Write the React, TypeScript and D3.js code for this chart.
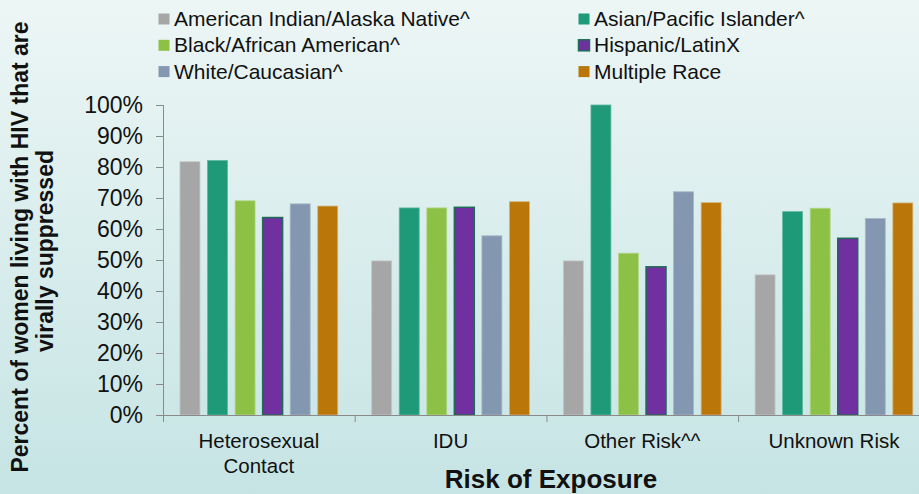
import React from "react";
import * as d3 from "d3";

const categories = ["Heterosexual Contact", "IDU", "Other Risk^^", "Unknown Risk"];
const categoryLines = [["Heterosexual", "Contact"], ["IDU"], ["Other Risk^^"], ["Unknown Risk"]];
const seriesNames = [
  "American Indian/Alaska Native^",
  "Asian/Pacific Islander^",
  "Black/African American^",
  "Hispanic/LatinX",
  "White/Caucasian^",
  "Multiple Race",
];
const aianValues = [81.7, 49.7, 49.7, 45.2];
const asianValues = [82.1, 66.8, 100, 65.6];
const blackValues = [69.1, 66.8, 52.2, 66.7];
const hispanicValues = [63.7, 67.0, 47.8, 57.0];
const whiteValues = [68.1, 57.8, 72.0, 63.4];
const multipleValues = [67.4, 68.8, 68.5, 68.4];
const seriesValues = [aianValues, asianValues, blackValues, hispanicValues, whiteValues, multipleValues];
const yTicks = [0, 10, 20, 30, 40, 50, 60, 70, 80, 90, 100];

const colors = ["#A6A6A6", "#1E9A78", "#8DC145", "#7030A0", "#8497B0", "#BA7609"];
const strokes = ["#C4C6C6", "#5DB9A0", "#B2D88A", "#1F6B58", "#A8B6C8", "#D2B27A"];

const FONT = "'Liberation Sans', Arial, sans-serif";

export default function App() {
  const W = 919, H = 494;
  const x0 = d3.scaleBand<string>().domain(categories).range([163, 163 + 4 * 191.7]).padding(0);
  const x1 = d3
    .scaleBand<string>()
    .domain(seriesNames)
    .range([0, x0.bandwidth()])
    .paddingInner(0.275)
    .paddingOuter(0.616);
  const y = d3.scaleLinear().domain([0, 100]).range([415, 105]);
  const axisColor = "#8A8A8A";

  return (
    <svg
      width={W}
      height={H}
      style={{ position: "absolute", left: 0, top: 0 }}
      fontFamily={FONT}
    >
      <defs>
        <linearGradient id="bg" x1="0" y1="0" x2="0" y2="1">
          <stop offset="0%" stopColor="#ECF6F5" />
          <stop offset="100%" stopColor="#C6E4E4" />
        </linearGradient>
      </defs>
      <rect x={0} y={0} width={W} height={H} fill="url(#bg)" />

      {/* Legend */}
      {seriesNames.map((name, i) => {
        const col = i % 2;
        const row = Math.floor(i / 2);
        const sx = col === 0 ? 158.5 : 578.5;
        const cy = 19 + row * 26.3;
        return (
          <g key={name}>
            <rect
              x={sx}
              y={cy - 5.5}
              width={11}
              height={11}
              fill={colors[i]}
              stroke={i === 3 ? strokes[3] : "none"}
              strokeWidth={i === 3 ? 1.5 : 0}
            />
            <text x={sx + 15.5} y={cy + 7} fontSize={21} fill="#111">
              {name}
            </text>
          </g>
        );
      })}

      {/* Bars */}
      {categories.map((c, ci) => (
        <g key={c} transform={`translate(${x0(c)},0)`}>
          {seriesNames.map((s, si) => {
            const v = seriesValues[si][ci];
            const top = y(v);
            return (
              <rect
                key={s}
                x={x1(s)}
                y={top}
                width={x1.bandwidth()}
                height={y(0) - top}
                fill={colors[si]}
                stroke={strokes[si]}
                strokeWidth={si === 3 ? 1.5 : 0.8}
              />
            );
          })}
        </g>
      ))}

      {/* Y axis */}
      <line x1={163.5} x2={163.5} y1={y(100)} y2={y(0)} stroke={axisColor} strokeWidth={1} />
      {yTicks.map((t) => (
        <g key={t}>
          <line x1={156} x2={163.5} y1={y(t) + 0.5} y2={y(t) + 0.5} stroke={axisColor} />
          <text
            x={143}
            y={y(t)}
            dy="0.36em"
            textAnchor="end"
            fontSize={23}
            fill="#111"
          >
            {t}%
          </text>
        </g>
      ))}

      {/* X axis */}
      <line x1={163} x2={W} y1={415.5} y2={415.5} stroke={axisColor} strokeWidth={1.2} />
      {categories.map((c) => (
        <line
          key={c}
          x1={(x0(c) as number) + 0.5}
          x2={(x0(c) as number) + 0.5}
          y1={415.5}
          y2={422}
          stroke={axisColor}
        />
      ))}
      {categories.map((c, ci) => (
        <text
          key={c}
          x={(x0(c) as number) + x0.bandwidth() / 2}
          y={448}
          textAnchor="middle"
          fontSize={20.5}
          fill="#111"
        >
          {categoryLines[ci].map((ln, li) => (
            <tspan key={li} x={(x0(c) as number) + x0.bandwidth() / 2} dy={li === 0 ? 0 : 24.5}>
              {ln}
            </tspan>
          ))}
        </text>
      ))}

      {/* Axis titles */}
      <text x={551} y={488} textAnchor="middle" fontSize={26} fontWeight="bold" fill="#111">
        Risk of Exposure
      </text>
      <text
        transform="translate(28,247) rotate(-90)"
        textAnchor="middle"
        fontSize={23}
        fontWeight="bold"
        fill="#111"
      >
        <tspan x={0} dy={0}>Percent of women living with HIV that are</tspan>
        <tspan x={-4} dy={24.5}>virally suppressed</tspan>
      </text>
    </svg>
  );
}
